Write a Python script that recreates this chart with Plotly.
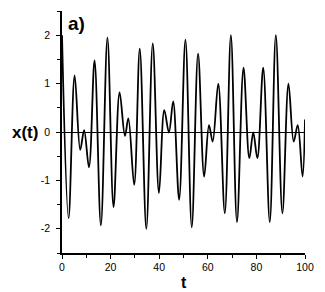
import plotly.graph_objects as go

# extrema (t, x(t))
t_vals = [0, 2.7, 5.2, 7.5, 9.1, 11.1, 13.4, 16.0, 18.7, 21.2, 23.7, 25.9, 27.3, 29.7,
          32.0, 34.7, 37.35, 39.9, 42.1, 44.0, 45.75, 48.2, 50.8, 53.4, 56.0, 58.5, 60.5,
          62.0, 64.3, 67.0, 69.5, 72.0, 74.7, 77.1, 78.7, 80.4, 82.8, 85.5, 88.0, 90.7,
          93.2, 95.35, 97.0, 99.0, 100]
x_vals = [2.0, -1.78, 1.17, -0.37, 0.04, -0.73, 1.48, -1.93, 1.95, -1.55, 0.82, -0.08, 0.28, -1.09,
          1.72, -2.0, 1.83, -1.26, 0.45, -0.01, 0.63, -1.40, 1.91, -1.97, 1.62, -0.92, 0.14,
          -0.20, 1.0, -1.68, 2.0, -1.86, 1.33, -0.54, -0.01, -0.54, 1.33, -1.86, 2.0, -1.68,
          1.0, -0.20, 0.14, -0.92, 0.26]

x_ticks = [0, 20, 40, 60, 80, 100]
x_ticktext = ["0", "20", "40", "60", "80", "100"]
y_ticks = [-2, -1, 0, 1, 2]
y_ticktext = ["-2", "-1", "0", "1", "2"]

FONT = "Liberation Sans, Arial, sans-serif"

fig = go.Figure()
fig.add_trace(go.Scatter(x=t_vals, y=x_vals, mode="lines",
                         line=dict(color="black", width=1.8, shape="spline", smoothing=1.0),
                         showlegend=False, hoverinfo="skip"))

fig.update_layout(
    width=325, height=292,
    margin=dict(l=62, r=12, t=11, b=39),
    paper_bgcolor="white", plot_bgcolor="white",
    font=dict(family=FONT, color="black", size=10),
    xaxis=dict(range=[0, 100], tickvals=x_ticks, ticktext=x_ticktext,
               showgrid=False, zeroline=False, showline=True, linecolor="black", linewidth=1.6,
               ticks="outside", ticklen=4, tickwidth=1.2, tickcolor="black",
               tickfont=dict(size=10.5, family=FONT),
               minor=dict(dtick=10, tick0=0, ticks="outside", ticklen=3, tickwidth=1, tickcolor="black", showgrid=False)),
    yaxis=dict(range=[-2.5, 2.5], tickvals=y_ticks, ticktext=y_ticktext,
               showgrid=False, zeroline=True, zerolinecolor="black", zerolinewidth=1.2,
               showline=True, linecolor="black", linewidth=1.6,
               ticks="outside", ticklen=4, tickwidth=1.2, tickcolor="black",
               tickfont=dict(size=10.5, family=FONT), ticklabelstandoff=4,
               minor=dict(dtick=0.5, tick0=0.5, ticks="outside", ticklen=3, tickwidth=1, tickcolor="black", showgrid=False)),
)

fig.add_annotation(text="<b>a)</b>", xref="paper", yref="paper", x=0.018, y=1.0,
                   xanchor="left", yanchor="top", showarrow=False,
                   font=dict(family=FONT, size=19, color="black"))
fig.add_annotation(text="<b>x(t)</b>", xref="paper", yref="y", x=-0.152, y=0,
                   xanchor="center", yanchor="middle", showarrow=False,
                   font=dict(family=FONT, size=17, color="black"))
fig.add_annotation(text="<b>t</b>", xref="paper", yref="paper", x=0.5, y=-0.122,
                   xanchor="center", yanchor="middle", showarrow=False,
                   font=dict(family=FONT, size=16, color="black"))

fig.write_html("out.html")
